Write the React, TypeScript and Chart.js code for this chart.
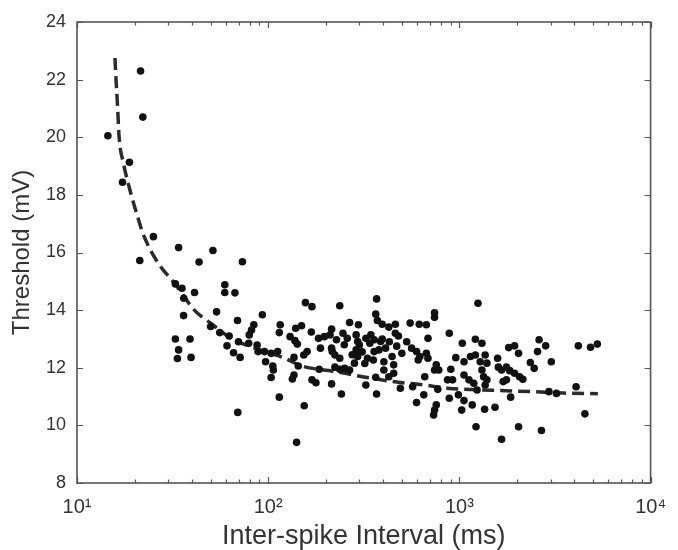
import React, { useEffect, useRef } from "react";
import { Chart, registerables } from "chart.js";

Chart.register(...registerables);

// Inter-spike interval (ms) and threshold (mV) of each measured spike
const isiMs = [
  21.5, 22.1, 14.5, 18.8, 17.3, 25.1, 21.3, 34.0, 51.4, 43.5, 73.3, 32.7, 35.4, 59.3, 59.3, 67, 41.2, 36.2, 36.1, 53.7,
  69.1, 50, 55.8, 62.5, 69.9, 60.9, 65.9, 71.3, 32.7, 39, 34, 33.5, 39.5, 69.3,
  156.6, 169.4, 93.2, 84.1, 81.8, 79.6, 115.6, 114.3, 139.2, 149.4, 130.1, 138, 142, 168.1, 183.3, 196.7, 187.6,
  79.1, 87.5, 88.5, 95.7, 103.6, 112.1, 136.4, 159.8, 153.5, 143.7, 96.9, 105.7, 106.4, 103.6, 133.8, 136.4, 169.4,
  177.7, 184.8, 114.3, 154.3, 140.8,
  236.8, 369, 266.6, 296.5, 365.3, 372.4, 394.7, 427.3, 462.4, 462.4, 214.6, 210.5, 227.6, 246.2, 259.2, 288.4,
  293.8, 299.9, 324.3, 344.4, 358.1, 387.3, 214.6, 216.3, 223.4, 236.8, 288.4, 293.8, 282.6, 330.6, 354.8, 358.1,
  379.6, 411, 444.4, 453.3, 402.7, 223.4, 236.8, 251.2, 266.6, 214.6, 241.5, 324.3, 369, 402.7, 427.3, 453.3, 491, 365,
  250, 310, 340, 395, 430, 275, 320, 470, 500, 530, 480,
  1251, 741.6, 741.6, 552.5, 616.6, 671.9, 885.6, 685.3, 1036, 1212, 562.6, 597, 621, 609, 672, 685, 957.6, 1057,
  1143, 1212, 1285, 756.8, 741.6, 780.3, 902, 659, 867, 921, 1057, 1122, 1189, 1237, 569.4, 771, 885.6, 988.5, 1057,
  1167, 1028, 597, 651.6, 756.8, 741.6, 733, 1222,
  2612, 2827, 2563, 1811, 1944, 2039, 1585, 1599, 1662, 1762, 1834, 1944, 2063, 2147, 2349, 2462, 3025, 1312, 1364,
  1393, 1312, 1339, 1393, 1364, 1694, 1762, 1854, 2940, 1355, 1536, 2039, 1662, 2687,
  4188, 4850, 5268, 3219, 4077, 4533,
];
const thresholdMv = [
  22.3, 20.7, 20.05, 19.13, 18.44, 16.55, 15.72, 16.17, 16.07, 15.67, 15.68, 14.91, 14.76, 14.88, 14.61, 14.6, 14.61, 14.41, 13.81, 13.94,
  13.64, 13.43, 13.22, 13.1, 12.9, 12.76, 12.52, 12.36, 13.0, 13.0, 12.62, 12.32, 12.36, 10.45,
  14.26, 14.12, 13.84, 13.49, 13.31, 13.14, 13.49, 13.22, 13.37, 13.46, 13.08, 12.94, 12.82, 13.24, 13.02, 13.08, 12.68,
  12.85, 12.79, 12.56, 12.56, 12.5, 12.56, 12.36, 12.56, 12.44, 12.06, 12.21, 12.06, 11.92, 11.66, 11.61, 11.75, 11.58,
  11.48, 11.95, 10.98, 10.68, 9.41,
  14.15, 14.39, 13.57, 13.49, 13.86, 13.64, 13.51, 13.41, 13.51, 13.2, 13.34, 13.14, 12.97, 13.2, 13.02, 13.14,
  12.91, 12.79, 13.02, 13.14, 12.97, 12.91, 12.68, 12.56, 12.44, 12.33, 12.62, 12.39, 12.16, 12.33, 12.27, 12.56,
  12.62, 12.68, 12.39, 12.1, 12.21, 12.02, 11.95, 11.98, 11.92, 11.44, 11.09, 11.4, 11.09, 11.92, 11.69, 11.81, 11.29, 11.67,
  12.8, 12.55, 12.85, 13.0, 12.9, 12.45, 12.15, 12.75, 12.5, 12.9, 13.1,
  14.24, 13.91, 13.75, 13.55, 13.51, 13.49, 13.2, 13.02, 12.85, 12.99, 12.68, 12.56, 12.39, 12.27, 12.5, 12.33, 12.35, 12.21,
  12.39, 12.44, 12.21, 12.1, 11.92, 11.92, 11.95, 11.69, 11.58, 11.58, 11.75, 11.58, 11.46, 11.23, 11.34, 11.25, 10.94, 11.06, 10.86,
  10.71, 10.53, 10.79, 11.06, 10.71, 10.53, 10.36, 9.95,
  12.97, 12.76, 12.56, 12.7, 12.76, 12.5, 12.33, 12.02, 11.92, 12.02, 11.9, 11.81, 11.69, 11.6, 12.18, 11.98, 12.21, 12.85, 12.44,
  12.16, 11.92, 11.69, 11.58, 11.4, 11.52, 11.58, 10.98, 11.17, 10.56, 10.63, 9.95, 9.52, 9.82,
  12.76, 12.71, 12.82, 11.11, 11.34, 10.4,
];

// Fitted curve
const fitX = [15.8, 16.0, 16.3, 16.6, 17.5, 18.7, 21.0, 22.3, 26.6, 32.4, 41.1, 50, 65.9, 80, 100, 119, 150, 220, 311, 450, 659, 867, 1473, 2400, 3500, 5300];
const fitY = [22.75, 22.0, 21.07, 20.02, 19.1, 18.29, 17.13, 16.6, 15.63, 14.93, 14.0, 13.55, 12.97, 12.75, 12.52, 12.36, 12.06, 11.88, 11.69, 11.52, 11.4, 11.29, 11.22, 11.17, 11.12, 11.1];

// Axis ticks
const xMajorTicks = [10, 100, 1000, 10000];
const xTickLabels = ["10\u00B9", "10\u00B2", "10\u00B3", "10\u2074"];
const xMinorTicks = [20, 30, 40, 50, 60, 70, 80, 90, 200, 300, 400, 500, 600, 700, 800, 900, 2000, 3000, 4000, 5000, 6000, 7000, 8000, 9000];
const yTicks = [8, 10, 12, 14, 16, 18, 20, 22, 24];

const FONT = "'Liberation Sans', Arial, Helvetica, sans-serif";
const TEXT = "#333";

const frameTicks = {
  id: "frameTicks",
  afterDraw(chart: any) {
    const { ctx, chartArea: a, scales } = chart;
    const xs = scales.x;
    const ys = scales.y;
    ctx.save();
    ctx.strokeStyle = "#555";
    ctx.lineWidth = 1.2;
    ctx.beginPath();
    const allX = [...xMajorTicks, ...xMinorTicks];
    allX.forEach((v) => {
      const px = Math.round(xs.getPixelForValue(v)) + 0.5;
      const len = xMajorTicks.includes(v) ? 6 : 3.5;
      ctx.moveTo(px, a.bottom);
      ctx.lineTo(px, a.bottom - len);
      ctx.moveTo(px, a.top);
      ctx.lineTo(px, a.top + len);
    });
    yTicks.forEach((v) => {
      const py = Math.round(ys.getPixelForValue(v)) + 0.5;
      ctx.moveTo(a.left, py);
      ctx.lineTo(a.left + 6, py);
      ctx.moveTo(a.right, py);
      ctx.lineTo(a.right - 6, py);
    });
    ctx.stroke();
    ctx.lineWidth = 1.6;
    ctx.strokeStyle = "#555";
    ctx.strokeRect(a.left, a.top, a.right - a.left, a.bottom - a.top);
    ctx.restore();
  },
};

export default function App() {
  const ref = useRef<HTMLCanvasElement | null>(null);

  useEffect(() => {
    if (!ref.current) return;
    const scatter = isiMs.map((x, i) => ({ x, y: thresholdMv[i] }));
    const fit = fitX.map((x, i) => ({ x, y: fitY[i] }));
    const chart = new Chart(ref.current, {
      type: "scatter",
      data: {
        datasets: [
          {
            label: "Threshold",
            data: scatter,
            pointRadius: 3.8,
            pointHoverRadius: 3.8,
            pointBackgroundColor: "#111",
            pointBorderWidth: 0,
            showLine: false,
          },
          {
            label: "Fit",
            data: fit,
            showLine: true,
            pointRadius: 0,
            borderColor: "#2b2b2b",
            borderWidth: 3.5,
            borderDash: [12, 6],
            cubicInterpolationMode: "monotone",
            fill: false,
          },
        ],
      },
      options: {
        animation: false,
        responsive: true,
        maintainAspectRatio: false,
        layout: { padding: { left: 0, right: 16, top: 22, bottom: 0 } },
        plugins: { legend: { display: false }, tooltip: { enabled: false } },
        scales: {
          x: {
            type: "logarithmic",
            min: 10,
            max: 10000,
            grid: { display: false, drawTicks: false, tickLength: 0 },
            border: { display: false },
            afterBuildTicks: (scale: any) => {
              scale.ticks = xMajorTicks.map((v) => ({ value: v, major: true }));
            },
            afterFit: (scale: any) => {
              scale.height = 67;
            },
            ticks: {
              autoSkip: false,
              maxRotation: 0,
              padding: 12,
              color: TEXT,
              font: { family: FONT, size: 20 },
              callback: (v: any) => {
                const i = xMajorTicks.indexOf(Number(v));
                return i >= 0 ? xTickLabels[i] : "";
              },
            },
            title: {
              display: true,
              text: "Inter-spike Interval (ms)",
              color: TEXT,
              font: { family: FONT, size: 27, lineHeight: 1 },
              padding: { top: 0, bottom: 0 },
            },
          },
          y: {
            min: 8,
            max: 24,
            grid: { display: false, drawTicks: false, tickLength: 0 },
            border: { display: false },
            afterFit: (scale: any) => {
              scale.width = 77;
            },
            afterBuildTicks: (scale: any) => {
              scale.ticks = yTicks.map((v) => ({ value: v }));
            },
            ticks: {
              padding: 11,
              color: TEXT,
              font: { family: FONT, size: 18 },
            },
            title: {
              display: true,
              text: "Threshold (mV)",
              color: TEXT,
              font: { family: FONT, size: 24, lineHeight: 1 },
              padding: { top: 10, bottom: 0 },
            },
          },
        },
      },
      plugins: [frameTicks],
    });
    return () => chart.destroy();
  }, []);

  return (
    <div style={{ position: "absolute", left: 0, top: 0, width: 678, height: 550, background: "#fff" }}>
      <canvas ref={ref} />
    </div>
  );
}
